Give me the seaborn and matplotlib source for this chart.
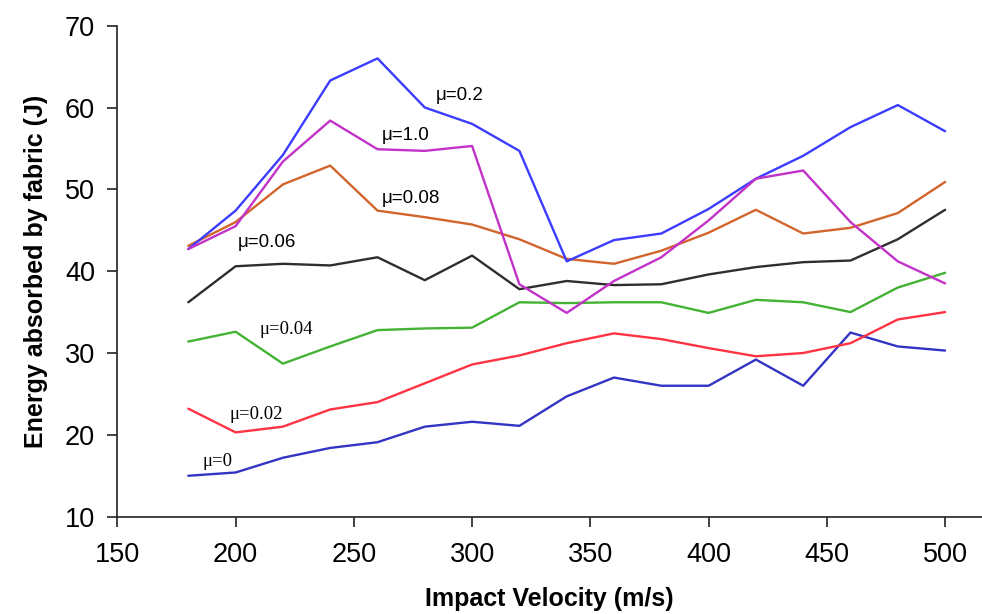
import pandas as pd
import seaborn as sns
import matplotlib.pyplot as plt

# Impact velocities (m/s)
velocity = [180, 200, 220, 240, 260, 280, 300, 320, 340,
            360, 380, 400, 420, 440, 460, 480, 500]

# Energy absorbed by fabric (J) for each friction coefficient
mu_0 = [15.0, 15.4, 17.2, 18.4, 19.1, 21.0, 21.6, 21.1, 24.7,
        27.0, 26.0, 26.0, 29.2, 26.0, 32.5, 30.8, 30.3]
mu_002 = [23.2, 20.3, 21.0, 23.1, 24.0, 26.3, 28.6, 29.7, 31.2,
          32.4, 31.7, 30.6, 29.6, 30.0, 31.2, 34.1, 35.0]
mu_004 = [31.4, 32.6, 28.7, 30.8, 32.8, 33.0, 33.1, 36.2, 36.1,
          36.2, 36.2, 34.9, 36.5, 36.2, 35.0, 38.0, 39.8]
mu_006 = [36.2, 40.6, 40.9, 40.7, 41.7, 38.9, 41.9, 37.8, 38.8,
          38.3, 38.4, 39.6, 40.5, 41.1, 41.3, 43.9, 47.5]
mu_008 = [43.1, 46.0, 50.6, 52.9, 47.4, 46.6, 45.7, 43.9, 41.5,
          40.9, 42.5, 44.7, 47.5, 44.6, 45.3, 47.1, 50.9]
mu_02 = [42.7, 47.4, 54.2, 63.3, 66.0, 60.0, 58.0, 54.7, 41.2,
         43.8, 44.6, 47.6, 51.3, 54.1, 57.6, 60.3, 57.1]
mu_10 = [42.7, 45.5, 53.4, 58.4, 54.9, 54.7, 55.3, 38.4, 34.9,
         38.8, 41.7, 46.2, 51.3, 52.3, 46.0, 41.2, 38.5]

series = {
    "μ=0": mu_0,
    "μ=0.02": mu_002,
    "μ=0.04": mu_004,
    "μ=0.06": mu_006,
    "μ=0.08": mu_008,
    "μ=0.2": mu_02,
    "μ=1.0": mu_10,
}

colors = {
    "μ=0": "#3434c4",
    "μ=0.02": "#ff3344",
    "μ=0.04": "#44b234",
    "μ=0.06": "#2e2e2e",
    "μ=0.08": "#d2642c",
    "μ=0.2": "#3c3cff",
    "μ=1.0": "#c232c8",
}

# where the curve labels sit (data coords, left edge of text)
label_pos = {
    "μ=0": (186, 16.7),
    "μ=0.02": (197.5, 22.5),
    "μ=0.04": (210, 32.9),
    "μ=0.06": (201, 43.5),
    "μ=0.08": (262, 48.9),
    "μ=0.2": (284.5, 61.5),
    "μ=1.0": (262, 56.6),
}
serif_labels = ["μ=0", "μ=0.02", "μ=0.04"]

rows = []
for name, vals in series.items():
    for v, e in zip(velocity, vals):
        rows.append([v, name, e])
df = pd.DataFrame(rows, columns=["velocity", "mu", "energy"])

sns.set_style("ticks")
plt.rcParams["font.family"] = ["Liberation Sans", "DejaVu Sans"]

fig = plt.figure(figsize=(9.82, 6.14), dpi=100)
ax = fig.add_axes([0.1195, 0.1585, 0.8805, 0.7997])

sns.lineplot(data=df, x="velocity", y="energy", hue="mu",
             palette=colors, linewidth=1.7, legend=False, ax=ax)

for name, (x, y) in label_pos.items():
    fam = ["Liberation Serif", "DejaVu Serif"] if name in serif_labels else ["Liberation Sans", "DejaVu Sans"]
    ax.text(x, y, name, fontsize=13.5, family=fam, va="center", ha="left", color="black")

ax.set_xlim(150, 515.6)
ax.set_ylim(10, 70)
ax.set_xticks(range(150, 501, 50))
ax.set_yticks(range(10, 71, 10))
ax.tick_params(labelsize=19.5, length=7, width=1.2, color="#222222", labelcolor="black")
ax.tick_params(axis="x", pad=11)
ax.tick_params(axis="y", pad=9)
for s in ["top", "right"]:
    ax.spines[s].set_visible(False)
for s in ["left", "bottom"]:
    ax.spines[s].set_linewidth(1.2)
    ax.spines[s].set_color("#222222")

ax.set_xlabel("Impact Velocity (m/s)", fontsize=18, fontweight="bold", labelpad=14, color="black")
ax.set_ylabel("Energy absorbed by fabric (J)", fontsize=18, fontweight="bold", labelpad=12, color="black")

plt.savefig("out.png", dpi=100)
